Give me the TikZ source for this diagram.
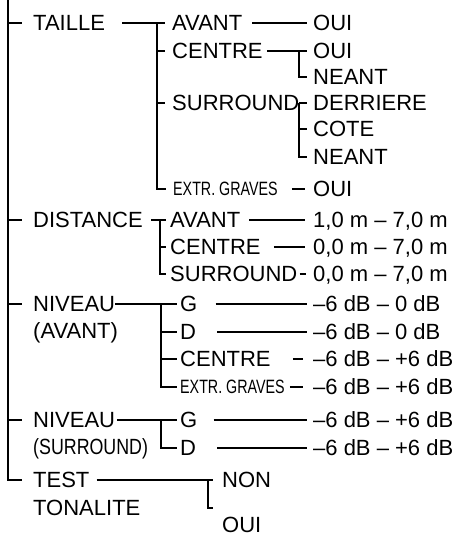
\documentclass[tikz,border=0pt]{standalone}
\usepackage{fontspec}
\setmainfont{Liberation Sans}
\usepackage{tikz}
\tikzset{
entry/.style = {
             inner sep=0pt,
             anchor=west,
             text height=15.1pt,
             text depth=0pt,
             font=\fontsize{22}{25}\selectfont
   },
narrow entry/.style = {
             entry,
             text height=13.3pt
   },
link/.style = {
     line width=2.2pt
     }
}
\newcommand\narrow[2][0.74]{\scalebox{#1}[1]{\fontsize{19.3}{21}\selectfont #2}}
\def\Fork#1#2#3{%
  \foreach \child in {#3} {
     \draw[link] (#1) |- ([xshift=-#2]\child.west);
  }
}

\begin{document}
\begin{tikzpicture}[x=1pt,y=-1pt]
\useasboundingbox (0,0) rectangle (462,537);
% first column
\foreach \name/\y/\txt in {taille/23/TAILLE, distance/220/DISTANCE, nivavant/304/NIVEAU,
  avantlbl/331/(AVANT), nivsurr/420/NIVEAU, test/480/TEST, tonalite/508/TONALITE}
  \node[entry] (\name) at (33,\y) {\txt};
\node[entry] (surrlbl) at (33,447) {\narrow[0.81]{\fontsize{22}{25}\selectfont (SURROUND)}};
% second column
\foreach \name/\x/\y/\txt in {tavant/172/23/AVANT, tcentre/172/51/CENTRE, tsurround/172/103/SURROUND,
  davant/170/220/AVANT, dcentre/170/247/CENTRE, dsurround/170/274/SURROUND,
  ng/180/304/G, nd/180/332/D, ncentre/180/359/CENTRE, sg/180/420/G, sd/180/448/D,
  non/222/480/NON, oui/222/525/OUI}
  \node[entry] (\name) at (\x,\y) {\txt};
\node[narrow entry] (tgraves) at (173,189) {\narrow{EXTR. GRAVES}};
\node[narrow entry] (ngraves) at (180,387) {\narrow{EXTR. GRAVES}};
% values
\foreach \name/\y/\txt in {tavantoui/23/OUI, tcentreoui/51/OUI, tcentreneant/77/NEANT,
  tderriere/103/DERRIERE, tcote/129/COTE, tsurneant/157/NEANT, tgravesoui/189/OUI,
  dav/220/{1,0 m – 7,0 m}, dce/247/{0,0 m – 7,0 m}, dsu/274/{0,0 m – 7,0 m},
  vg/304/–6 dB – 0 dB, vd/332/–6 dB – 0 dB, vcentre/359/–6 dB – +6 dB,
  vgraves/387/–6 dB – +6 dB, sgv/420/–6 dB – +6 dB, sdv/448/–6 dB – +6 dB}
  \node[entry] (\name) at (313,\y) {\txt};

% forks
\coordinate (top) at (8,0);
\coordinate (ftaille) at (157,23);
\coordinate (fcentre) at (299,51);
\coordinate (fsurround) at (299,103);
\coordinate (fdistance) at (160,220);
\coordinate (fnivavant) at (161,304);
\coordinate (fnivsurr) at (161,420);
\coordinate (ftest) at (208,480);
\coordinate (ouitick) at (213,508);

\Fork{top}{11pt}{taille,distance,nivavant,nivsurr,test}

\draw[link] ([xshift=17pt]taille.east) -- (ftaille);
\Fork{ftaille}{7pt}{tavant,tcentre,tsurround,tgraves}
\draw[link] ([xshift=10pt]tavant.east) -- ([xshift=-6pt]tavantoui.west);
\draw[link] ([xshift=4pt]tcentre.east) -- (fcentre);
\Fork{fcentre}{6pt}{tcentreoui,tcentreneant}
\draw[link] ([xshift=2pt]tsurround.east) -- (fsurround);
\Fork{fsurround}{6pt}{tderriere,tcote,tsurneant}
\draw[link] ([xshift=14pt]tgraves.east) -- ([xshift=-8pt]tgravesoui.west);

\draw[link] ([xshift=8pt]distance.east) -- (fdistance);
\Fork{fdistance}{4pt}{davant,dcentre,dsurround}
\draw[link] ([xshift=9pt]davant.east) -- ([xshift=-8pt]dav.west);
\draw[link] ([xshift=13pt]dcentre.east) -- ([xshift=-8pt]dce.west);
\draw[link] ([xshift=2pt]dsurround.east) -- ([xshift=-7pt]dsu.west);

\draw[link] (nivavant.east) -- (fnivavant);
\Fork{fnivavant}{3pt}{ng,nd,ncentre,ngraves}
\draw[link] ([xshift=18pt]ng.east) -- ([xshift=-6pt]vg.west);
\draw[link] ([xshift=21pt]nd.east) -- ([xshift=-6pt]vd.west);
\draw[link] ([xshift=22pt]ncentre.east) -- ([xshift=-10pt]vcentre.west);
\draw[link] ([xshift=5pt]ngraves.east) -- ([xshift=-10pt]vgraves.west);

\draw[link] ([xshift=2pt]nivsurr.east) -- (fnivsurr);
\Fork{fnivsurr}{3pt}{sg,sd}
\draw[link] ([xshift=16pt]sg.east) -- ([xshift=-6pt]sgv.west);
\draw[link] ([xshift=21pt]sd.east) -- ([xshift=-6pt]sdv.west);

\draw[link] ([xshift=7pt]test.east) -- ([xshift=-9pt]non.west);
\draw[link] (ftest) |- (ouitick);
\end{tikzpicture}
\end{document}
